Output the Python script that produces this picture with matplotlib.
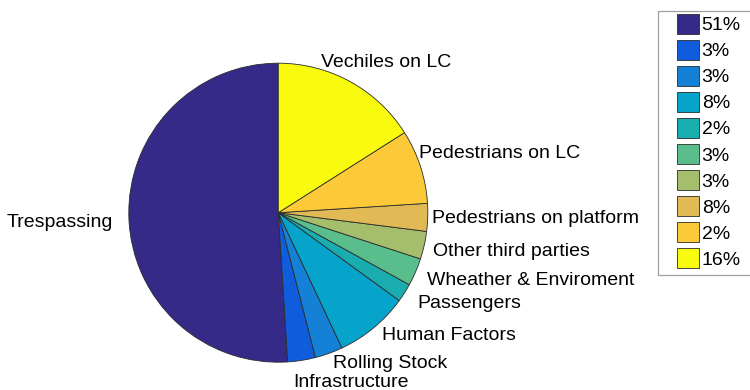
import matplotlib
matplotlib.use('Agg')
import matplotlib.pyplot as plt
from matplotlib.patches import Rectangle

plt.rcParams['font.family'] = ['Liberation Sans', 'DejaVu Sans']

# Data
causes = ['Trespassing', 'Infrastructure', 'Rolling Stock', 'Human Factors', 'Passengers',
          'Wheather & Enviroment', 'Other third parties', 'Pedestrians on platform',
          'Pedestrians on LC', 'Vechiles on LC']
shares = [51, 3, 3, 8, 2, 3, 3, 3, 8, 16]
legend_labels = ['51%', '3%', '3%', '8%', '2%', '3%', '3%', '8%', '2%', '16%']

# parula-like colours
colors = ['#352A87', '#0F5CDD', '#1481D6', '#06A4CA', '#1AADB0',
          '#59BD8C', '#A5BE6B', '#E1B955', '#FCC938', '#F9FB0E']

# label anchors (in pie radii) and alignment
label_pos = [(-1.108, -0.094, 'right'), (0.100, -1.165, 'left'), (0.364, -1.041, 'left'),
             (0.692, -0.851, 'left'), (0.930, -0.637, 'left'), (0.993, -0.484, 'left'),
             (1.037, -0.290, 'left'), (1.030, -0.071, 'left'), (0.943, 0.364, 'left'),
             (0.284, 0.973, 'left')]

W, H = 750, 390
fig = plt.figure(figsize=(W / 100, H / 100), dpi=100)
cx, cy, r = 278.3, 212.7, 149.5
half = 1.2 * r
ax = fig.add_axes([(cx - half) / W, (H - cy - half) / H, 2 * half / W, 2 * half / H])

wedges, _ = ax.pie(shares, colors=colors, startangle=90, counterclock=True,
                   wedgeprops=dict(edgecolor='#2b2b2b', linewidth=0.6))
ax.set_xlim(-1.2, 1.2)
ax.set_ylim(-1.2, 1.2)
ax.set_aspect('equal')
ax.axis('off')

for name, (x, y, ha) in zip(causes, label_pos):
    ax.text(x, y, name, ha=ha, va='baseline', fontsize=14)

# legend box (extends past the right edge like the original)
frame = Rectangle((658.3 / W, (H - 275) / H), 110 / W, (275 - 10.7) / H,
                  transform=fig.transFigure, facecolor='white', edgecolor='#a0a0a0',
                  linewidth=0.9, zorder=1)
fig.add_artist(frame)
fig.legend(wedges, legend_labels, loc='upper left', bbox_to_anchor=(677 / W, 1 - 13.5 / H),
           frameon=False, borderpad=0, borderaxespad=0, fontsize=14,
           handlelength=1.15, handleheight=1.26, handletextpad=0.12, labelspacing=0.265)

plt.savefig('out.png', dpi=100)
